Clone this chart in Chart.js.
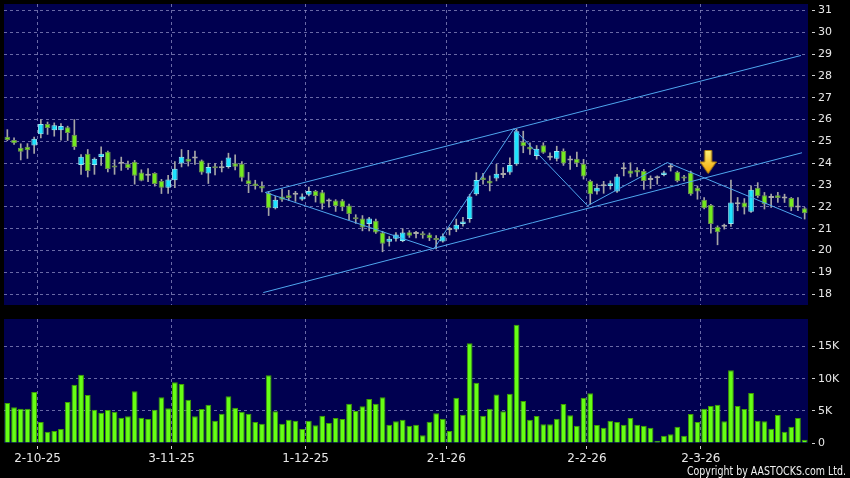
<!DOCTYPE html>
<html><head><meta charset="utf-8">
<script src="https://cdn.jsdelivr.net/npm/chart.js@4.4.1/dist/chart.umd.min.js"></script>
<style>
html,body{margin:0;padding:0;background:#000;width:850px;height:478px;overflow:hidden;}
#c1{position:absolute;left:0;top:0;}
#c2{position:absolute;left:0;top:310px;}
#copy{position:absolute;left:687px;top:464px;font:12px 'DejaVu Sans',sans-serif;color:#f0f0f0;white-space:nowrap;transform-origin:0 0;line-height:normal;}
</style></head><body>
<canvas id="c1" width="850" height="310"></canvas>
<canvas id="c2" width="850" height="168"></canvas>
<div id="copy">Copyright by AASTOCKS.com Ltd.</div>
<script>
const dates = [
'24-9-25','25-9-25','26-9-25','29-9-25','30-9-25',
'2-10-25','3-10-25','6-10-25','8-10-25','9-10-25','10-10-25','13-10-25','14-10-25','15-10-25','16-10-25','17-10-25','20-10-25','21-10-25','22-10-25','23-10-25','24-10-25','27-10-25','28-10-25','30-10-25','31-10-25',
'3-11-25','4-11-25','5-11-25','6-11-25','7-11-25','10-11-25','11-11-25','12-11-25','13-11-25','14-11-25','17-11-25','18-11-25','19-11-25','20-11-25','21-11-25','24-11-25','25-11-25','26-11-25','27-11-25','28-11-25',
'1-12-25','2-12-25','3-12-25','4-12-25','5-12-25','8-12-25','9-12-25','10-12-25','11-12-25','12-12-25','15-12-25','16-12-25','17-12-25','18-12-25','19-12-25','22-12-25','23-12-25','24-12-25','29-12-25','30-12-25','31-12-25',
'2-1-26','5-1-26','6-1-26','7-1-26','8-1-26','9-1-26','12-1-26','13-1-26','14-1-26','15-1-26','16-1-26','19-1-26','20-1-26','21-1-26','22-1-26','23-1-26','26-1-26','27-1-26','28-1-26','29-1-26','30-1-26',
'2-2-26','3-2-26','4-2-26','5-2-26','6-2-26','9-2-26','10-2-26','11-2-26','12-2-26','13-2-26','16-2-26','20-2-26','23-2-26','24-2-26','25-2-26','26-2-26','27-2-26',
'2-3-26','3-3-26','4-3-26','5-3-26','6-3-26','9-3-26','10-3-26','11-3-26','12-3-26','13-3-26','16-3-26','17-3-26','18-3-26','19-3-26','20-3-26','23-3-26'
];
const opens = [
25.21,25.07,24.71,24.76,24.81,25.33,25.80,25.51,25.51,25.65,
25.30,23.92,24.43,23.92,24.28,24.53,23.90,23.98,23.98,24.07,
23.57,23.43,23.55,23.19,22.87,23.22,23.99,24.21,24.22,24.12,
23.53,23.83,23.77,23.83,24.00,23.98,23.22,23.07,22.96,22.64,
21.94,22.48,22.53,22.56,22.34,22.56,22.73,22.67,22.25,22.29,
22.29,22.06,21.52,21.47,21.21,21.36,20.82,20.40,20.54,20.43,
20.83,20.76,20.76,20.73,20.56,20.41,20.94,20.96,21.21,21.44,
22.58,23.34,23.20,23.30,23.46,23.57,23.95,24.98,24.75,24.33,
24.82,24.25,24.21,24.56,24.13,24.21,23.98,23.19,22.70,22.95,
22.96,22.70,23.72,23.67,23.69,23.64,23.23,23.31,23.46,23.80,
23.61,23.39,23.57,22.88,22.32,22.09,21.09,21.09,21.21,22.12,
22.20,21.77,22.88,22.53,22.40,22.53,22.38,22.40,21.97,21.93
];
const highs = [
25.54,25.16,24.89,24.90,25.20,26.00,25.89,25.85,25.82,25.70,
26.00,24.40,24.63,24.25,24.75,24.56,24.16,24.28,24.10,24.13,
23.70,23.75,23.57,23.26,23.45,24.07,24.63,24.59,24.56,24.15,
24.00,24.00,24.10,24.46,24.39,24.08,23.58,23.22,23.15,22.71,
22.48,22.81,22.76,22.71,22.60,22.91,22.76,22.76,22.37,22.33,
22.34,22.13,21.64,21.60,21.52,21.44,20.88,20.64,20.82,21.00,
20.91,20.88,20.86,20.80,20.68,20.76,21.06,21.44,21.52,22.58,
23.57,23.54,23.42,23.95,23.80,24.25,25.57,25.47,24.94,24.81,
24.94,24.48,24.78,24.66,24.33,24.51,24.18,23.23,23.04,23.17,
23.19,23.49,24.02,24.02,23.80,23.72,23.42,23.42,23.64,23.95,
23.64,23.45,23.64,22.96,22.43,22.12,21.13,21.21,23.23,22.43,
22.38,22.96,23.11,22.66,22.58,22.66,22.58,22.43,22.43,21.97
];
const lows = [
25.03,24.86,24.15,24.22,24.45,25.16,25.32,25.24,25.06,25.04,
24.63,23.49,23.37,23.49,23.90,23.60,23.49,23.67,23.72,23.04,
23.19,23.15,22.95,22.61,22.61,22.88,23.83,23.87,23.95,23.49,
23.07,23.46,23.60,23.77,23.69,23.18,22.65,22.81,22.68,21.60,
21.90,22.25,22.29,22.25,22.29,22.50,22.22,21.90,21.98,21.79,
21.82,21.41,21.24,20.90,20.90,20.78,19.94,20.20,20.43,20.40,
20.60,20.57,20.56,20.45,20.07,20.38,20.71,20.86,21.11,21.29,
22.53,23.04,22.73,23.19,23.34,23.49,23.90,24.48,24.40,24.18,
24.45,24.15,24.10,23.90,23.72,23.84,23.27,22.12,22.58,22.62,
22.81,22.66,23.42,23.37,23.39,22.80,22.84,23.04,23.42,23.64,
23.14,23.19,22.53,22.35,21.90,20.79,20.26,20.98,21.10,21.82,
21.67,21.74,22.43,21.90,21.97,22.20,22.20,21.82,21.82,21.44
];
const closes = [
25.07,24.92,24.53,24.60,25.12,25.80,25.62,25.74,25.71,25.38,
24.74,24.30,23.64,24.21,24.43,23.74,23.80,23.98,23.78,23.43,
23.20,23.43,23.05,22.88,23.25,23.75,24.30,24.07,24.22,23.58,
23.83,23.77,23.77,24.26,23.84,23.33,23.05,22.96,22.84,21.94,
22.33,22.33,22.40,22.56,22.48,22.73,22.50,22.14,22.25,22.04,
21.98,21.67,21.43,21.05,21.47,20.82,20.31,20.54,20.73,20.82,
20.68,20.76,20.70,20.56,20.48,20.65,20.94,21.18,21.33,22.47,
23.23,23.23,23.07,23.52,23.46,23.92,25.47,24.78,24.63,24.66,
24.48,24.25,24.56,23.99,24.13,24.00,23.39,22.58,22.88,22.95,
23.08,23.39,23.72,23.52,23.57,23.19,23.23,23.31,23.57,23.80,
23.19,23.30,22.58,22.70,21.93,21.21,20.83,21.09,22.20,22.12,
21.97,22.78,22.50,22.12,22.40,22.41,22.38,21.97,21.97,21.71
];
const volumes = [
6230,5550,5350,5350,7940,3270,1760,1870,2180,6380,
9080,10640,7470,5190,4720,5140,4880,3940,4150,8040,
3940,3740,5190,7110,5400,9450,9190,6750,4150,5290,
5970,3480,4570,7270,5500,4880,4570,3270,3010,10540,
4930,3010,3630,3480,2180,3480,2750,4260,3110,3890,
3740,6120,4980,5710,6850,6120,7110,2850,3370,3630,
2700,2850,1190,3320,4620,3790,1870,7060,4410,15520,
9390,4260,5350,7530,4930,7680,18420,6540,3630,4200,
2910,2910,3790,6070,4310,2700,7060,7730,2800,2390,
3480,3270,2850,3890,2850,2700,2390,360,1140,1350,
2540,1140,4520,3270,5350,5760,5970,3370,11310,5760,
5290,7790,3480,3370,2230,4360,1760,2540,3890,520
];
const tickLabels = ['2-10-25','3-11-25','1-12-25','2-1-26','2-2-26','2-3-26'];
const priceTicks = [18,19,20,21,22,23,24,25,26,27,28,29,30,31];
const volumeTicks = [0,5000,10000,15000];
const channelUpper = [{x:38.5,y:22.66},{x:118.45,y:28.94}];
const channelLower = [{x:38.2,y:18.07},{x:118.6,y:24.48}];
const zigzag = [{x:38.5,y:22.66},{x:63.65,y:20.07},{x:75.6,y:25.58},{x:86.6,y:22.05},{x:98.5,y:24.03},{x:118.6,y:21.47}];
const signalArrow = [{x:104.6,y:24.06}];

const NAVY = '#000050';
const GRID = 'rgba(140,140,195,0.75)';
const TXT = '#e8e8e8';
const LINE = '#4fa6ee';
const UP = '#1ee4ff', DOWN = '#74ea1e', DOJI = '#a9a9a9';

const isMonth = i => i >= 0 && i < dates.length && tickLabels.includes(dates[i]);
const bodyColor = i => closes[i] > opens[i] ? UP : (closes[i] < opens[i] ? DOWN : DOJI);
const bodyBorder = i => closes[i] > opens[i] ? '#93eaf5' : (closes[i] < opens[i] ? '#6e8f55' : DOJI);

const areaBg = {id:'areaBg', beforeDraw(chart){
  const {ctx, chartArea:a} = chart;
  ctx.save(); ctx.fillStyle = NAVY; ctx.fillRect(a.left, a.top, a.right - a.left, a.bottom - a.top); ctx.restore();
}};

function makeArrow(){
  const c = document.createElement('canvas'); c.width = 17; c.height = 24;
  const g = c.getContext('2d');
  const grad = g.createLinearGradient(0,0,0,24);
  grad.addColorStop(0,'#fff27a'); grad.addColorStop(1,'#f3a400');
  g.fillStyle = grad; g.strokeStyle = '#b8860b'; g.lineWidth = 1;
  g.beginPath();
  g.moveTo(5,0.5); g.lineTo(12,0.5); g.lineTo(12,12); g.lineTo(16.5,12);
  g.lineTo(8.5,23.5); g.lineTo(0.5,12); g.lineTo(5,12); g.closePath();
  g.fill(); g.stroke();
  return c;
}

const lineDs = (d) => ({type:'line', data:d, xAxisID:'xl', yAxisID:'y', borderColor:LINE, borderWidth:1, pointRadius:0, tension:0, fill:false, order:1});
const noPadY = s => { s.width = 42; s.paddingTop = 0; s.paddingBottom = 0; };

new Chart(document.getElementById('c1'), {
  type:'bar',
  data:{labels:dates, datasets:[
    {data: lows.map((l,i)=>[l, highs[i]]), backgroundColor:'#a6a6a6', barThickness:1, grouped:false, order:3},
    {data: opens.map((o,i)=>[o, closes[i]]), backgroundColor: c=>bodyColor(c.dataIndex), borderColor: c=>bodyBorder(c.dataIndex),
      borderWidth:1, borderSkipped:false, categoryPercentage:0.84, barPercentage:1, minBarLength:2, grouped:false, order:2},
    lineDs(channelUpper), lineDs(channelLower), lineDs(zigzag),
    {type:'scatter', data:signalArrow, xAxisID:'xl', yAxisID:'y', pointStyle:makeArrow(), pointRadius:10, order:0}
  ]},
  options:{
    responsive:false, animation:false, events:[],
    plugins:{legend:{display:false}, tooltip:{enabled:false}},
    layout:{autoPadding:false, padding:{left:4, top:4, bottom:5, right:0}},
    scales:{
      x:{type:'category', offset:true,
        grid:{offset:true, color:c=>isMonth(c.index)?GRID:'transparent', drawTicks:false},
        border:{display:false, dash:[3,3]},
        ticks:{display:false, autoSkip:false},
        afterFit:s=>{s.height=0; s.paddingLeft=0; s.paddingRight=0;}},
      xl:{type:'linear', min:-0.5, max:119.5, offset:false, grid:{offset:false}, display:false},
      y:{position:'right', min:17.5, max:31.3,
        afterBuildTicks:s=>{s.ticks = priceTicks.map(v=>({value:v}));},
        grid:{color:GRID, tickLength:8, tickColor:'#d0d0d0', tickBorderDash:[0,4,3,1]},
        border:{display:false, dash:[3,3]},
        ticks:{color:TXT, font:{family:'DejaVu Sans', size:11}, padding:2},
        afterFit:noPadY}
    }
  },
  plugins:[areaBg]
});

new Chart(document.getElementById('c2'), {
  type:'bar',
  data:{labels:dates, datasets:[
    {data:volumes, backgroundColor:'#66ff14', borderColor:'#3f9e00', borderWidth:1, categoryPercentage:0.86, barPercentage:1}
  ]},
  options:{
    responsive:false, animation:false, events:[],
    plugins:{legend:{display:false}, tooltip:{enabled:false}},
    layout:{autoPadding:false, padding:{left:4, top:9, bottom:0, right:0}},
    scales:{
      x:{type:'category', offset:true,
        grid:{offset:true, color:c=>isMonth(c.index)?GRID:'transparent', tickColor:c=>isMonth(c.index)?'#d0d0d0':'transparent', tickLength:7, tickBorderDash:[0,3,3,1]},
        border:{display:false, dash:[3,3]},
        ticks:{autoSkip:false, maxRotation:0, minRotation:0, color:TXT, font:{family:'DejaVu Sans', size:12}, padding:2, labelOffset:-3.3,
          callback:(v,i)=> isMonth(i) ? dates[i] : ''},
        afterFit:s=>{s.height=35; s.paddingLeft=0; s.paddingRight=0;}},
      y:{position:'right', min:0, max:19300,
        afterBuildTicks:s=>{s.ticks = volumeTicks.map(v=>({value:v}));},
        grid:{color:c=>(c.tick && c.tick.value===0)?'transparent':GRID, tickLength:8, tickColor:'#d0d0d0', tickBorderDash:[0,4,3,1]},
        border:{display:false, dash:[3,3]},
        ticks:{color:TXT, font:{family:'DejaVu Sans', size:11}, padding:2, callback:v=> v===0 ? '0' : (v/1000)+'K'},
        afterFit:noPadY}
    }
  },
  plugins:[areaBg]
});

const cp = document.getElementById('copy');
const w = cp.getBoundingClientRect().width;
cp.style.transform = 'scaleX(' + (159 / w) + ')';
</script>
</body></html>
